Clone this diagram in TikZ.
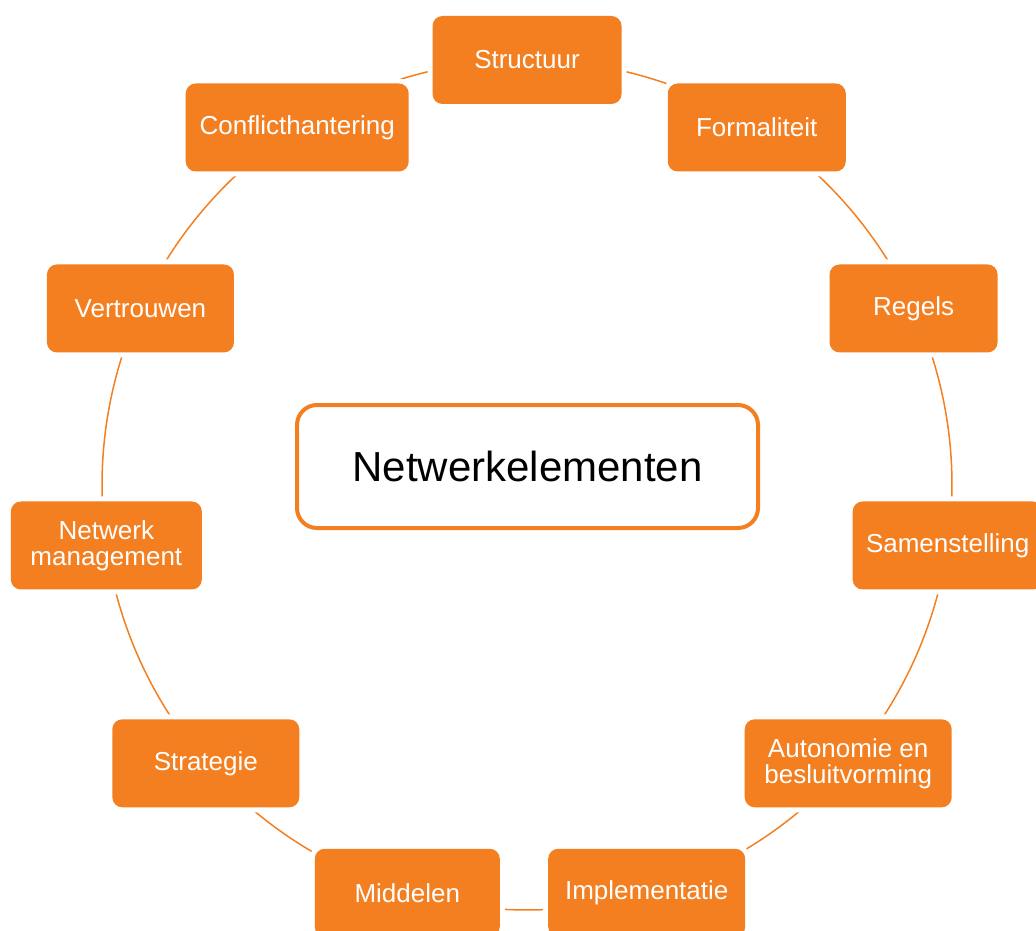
\documentclass[tikz,border=0pt]{standalone}
\usepackage{fontspec}
\setmainfont{Liberation Sans}
\usetikzlibrary{calc,backgrounds}
\definecolor{accent}{RGB}{243,127,33}
\tikzset{
  elem/.style={fill=accent, rounded corners=10pt, minimum height=88pt,
    inner sep=0pt, text=white, align=center,
    font=\fontsize{26}{26}\selectfont,
    preaction={draw=white, line width=10pt}},
  ring/.style={draw=accent, line width=1.5pt},
  hub/.style={draw=accent, line width=4pt, fill=white, rounded corners=20pt,
    minimum width=461pt, minimum height=123pt, inner sep=0pt,
    font=\fontsize{42}{48}\selectfont}
}
\begin{document}
\begin{tikzpicture}[x=1pt,y=1pt]
\useasboundingbox (0,0) rectangle (1036,-931);
\coordinate (c) at (527,-485);

% eleven elements spaced evenly on a circle
\node[elem, minimum width=189pt] (structuur)     at ($(c)+(90:425pt)$)            {Structuur};
\node[elem, minimum width=178pt] (formaliteit)   at ($(c)+({90-1*360/11}:425pt)$) {Formaliteit};
\node[elem, minimum width=168pt] (regels)        at ($(c)+({90-2*360/11}:425pt)$) {Regels};
\node[elem, minimum width=190pt] (samenstelling) at ($(c)+({90-3*360/11}:425pt)$) {Samenstelling};
\node[elem, minimum width=207pt] (autonomie)     at ($(c)+({90-4*360/11}:425pt)$) {Autonomie en\\besluitvorming};
\node[elem, minimum width=197pt] (implementatie) at ($(c)+({90-5*360/11}:425pt)$) {Implementatie};
\node[elem, minimum width=185pt] (middelen)      at ($(c)+({90-6*360/11}:425pt)$) {Middelen};
\node[elem, minimum width=187pt] (strategie)     at ($(c)+({90-7*360/11}:425pt)$) {Strategie};
\node[elem, minimum width=191pt] (netwerk)       at ($(c)+({90-8*360/11}:425pt)$) {Netwerk\\management};
\node[elem, minimum width=187pt] (vertrouwen)    at ($(c)+({90-9*360/11}:425pt)$) {Vertrouwen};
\node[elem, minimum width=223pt] (conflict)      at ($(c)+({90-10*360/11}:425pt)$) {Conflicthantering};

% central title
\node[hub] (hub) at (527.5,-466.5) {Netwerkelementen};

% ring segments joining neighbouring elements
\begin{pgfonlayer}{background}
\foreach \a/\b [count=\i] in {structuur/formaliteit, formaliteit/regels,
    regels/samenstelling, samenstelling/autonomie, autonomie/implementatie,
    implementatie/middelen, middelen/strategie, strategie/netwerk,
    netwerk/vertrouwen, vertrouwen/conflict, conflict/structuur}
  \draw[ring] (\a.center) arc[start angle={90-(\i-1)*360/11},
    end angle={90-\i*360/11}, radius=425pt];
\end{pgfonlayer}
\end{tikzpicture}
\end{document}
